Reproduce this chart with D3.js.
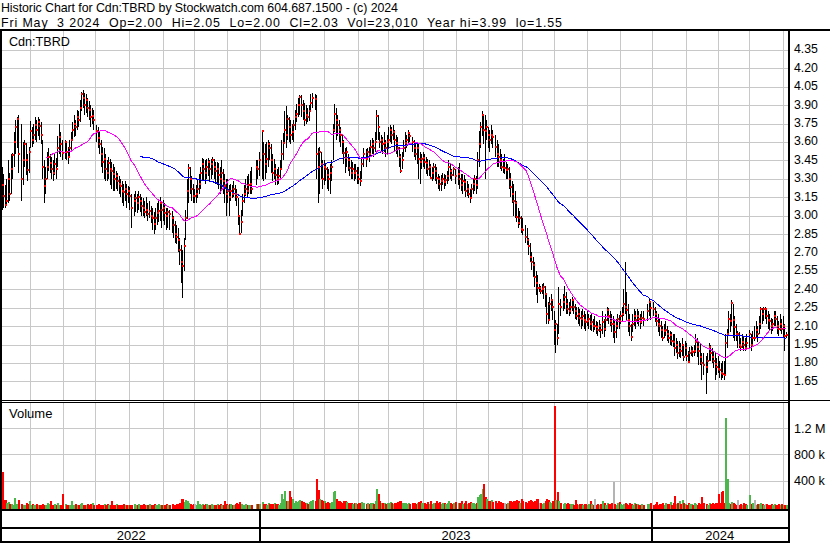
<!DOCTYPE html>
<html><head><meta charset="utf-8">
<script src="https://cdn.jsdelivr.net/npm/d3@7"></script>
<style>
html,body{margin:0;padding:0;background:#fff;}
svg{display:block;}
text{font-family:"Liberation Sans",Arial,sans-serif;fill:#000;}
</style></head><body>
<svg id="chart" width="830" height="543"></svg>
<script>
const title = "Historic Chart for Cdn:TBRD by Stockwatch.com 604.687.1500 - (c) 2024";
const subtitle = "Fri May  3 2024  Op=2.00  Hi=2.05  Lo=2.00  Cl=2.03  Vol=23,010  Year hi=3.99  lo=1.55";
const symbolLabel = "Cdn:TBRD";
const volumeLabel = "Volume";
const startDate = "2022-05-04", endDate = "2024-05-03";
const holidays = ["2022-05-23","2022-07-01","2022-08-01","2022-09-05","2022-10-10","2022-12-26","2022-12-27",
 "2023-01-02","2023-02-20","2023-04-07","2023-05-22","2023-07-03","2023-08-07","2023-09-04","2023-10-09",
 "2023-12-25","2023-12-26","2024-01-01","2024-02-19","2024-03-29"];
// daily close / high / low in cents, one row per month
const closes = [
349,325,316,309,312,330,318,338,349,360,372,379,350,330,345,358,345,337,352,
369,362,366,374,370,376,373,366,340,324,330,340,348,343,338,335,342,338,355,364,358,351,
360,352,348,355,362,370,375,372,380,378,388,399,396,390,394,388,386,380,381,378,
369,363,358,350,344,346,338,335,343,338,336,334,330,332,328,326,324,320,319,322,318,320,
316,306,312,314,310,315,312,308,306,303,305,301,304,300,298,293,298,302,304,310,305,
306,302,300,303,301,298,292,285,283,280,272,262,259,275,298,320,339,330,322,316,
316,318,322,326,335,342,338,335,340,344,338,342,345,340,336,338,333,330,335,328,324,318,
320,315,320,318,322,318,315,300,285,295,312,318,322,320,325,326,322,340,338,345,
369,350,342,346,358,355,345,335,338,333,330,332,338,350,359,370,366,379,372,366,368,
374,380,383,390,397,390,385,378,382,380,385,392,396,395,350,340,352,342,330,
340,338,333,330,335,340,370,383,378,374,370,366,360,351,347,352,345,339,335,338,335,336,333,
330,328,342,350,346,352,350,356,358,355,360,381,372,360,362,358,359,355,360,
362,370,366,368,362,359,355,348,336,345,355,359,362,367,365,360,355,350,355,346,344,346,
347,344,343,338,340,331,335,340,336,331,330,326,328,330,327,329,332,340,336,333,338,332,
334,330,325,328,327,320,322,318,314,322,326,330,325,345,358,372,382,370,369,372,
366,362,366,364,356,350,348,345,340,339,339,337,338,330,323,318,312,310,299,294,298,289,
288,283,280,275,266,262,260,250,245,241,241,239,240,242,236,220,215,228,231,226,
207,212,200,228,226,230,234,228,224,222,226,231,226,222,218,220,217,216,218,215,213,
214,216,212,213,210,210,209,207,210,207,213,208,215,223,218,214,212,212,205,210,216,214,
218,220,228,226,223,215,210,201,212,218,215,218,216,213,217,216,222,230,225,
224,220,214,212,210,207,200,206,207,204,200,203,198,197,192,195,188,192,190,195,185,192,
186,181,188,190,189,190,197,193,190,185,180,178,177,182,193,188,185,182,179,177,
175,174,172,171,170,196,204,216,214,229,215,209,204,204,195,193,197,195,192,196,
204,195,200,200,207,204,212,224,220,224,224,218,215,214,210,212,218,216,210,208,212,208,
210,202,203];
const highs = [
351,340,334,325,330,345,335,350,351,368,378,380,382,375,360,362,359,350,356,
377,372,375,380,378,380,379,376,362,345,340,352,355,350,348,345,350,347,365,375,368,362,
362,360,356,362,368,376,382,378,386,385,394,401,402,400,399,396,393,390,388,386,
374,372,368,362,356,355,350,345,348,346,344,342,340,336,335,332,330,328,326,328,326,324,
323,318,318,320,318,320,318,315,314,312,315,310,312,308,306,303,306,310,312,315,312,
313,310,306,306,305,304,300,296,292,290,282,276,272,282,305,330,342,340,332,326,
322,325,330,334,340,347,346,345,346,347,345,346,348,346,344,344,343,340,345,338,334,330,
330,325,326,325,328,325,322,314,300,305,318,325,330,332,334,336,340,345,345,352,
370,360,358,360,362,360,358,350,346,342,338,340,345,362,367,385,389,382,380,378,375,
378,386,391,396,398,398,394,392,390,388,390,399,400,399,398,355,356,352,345,
345,343,340,338,342,345,375,391,388,382,378,372,366,362,355,356,350,348,345,344,342,342,340,
340,336,348,355,354,355,356,362,363,362,368,386,382,368,366,364,368,362,366,
372,374,372,374,370,366,364,356,350,352,362,368,366,370,368,364,362,360,360,358,352,350,
352,350,348,346,345,342,340,343,342,340,334,332,333,335,334,333,336,345,342,338,340,338,
340,343,334,334,333,330,328,326,322,326,330,333,332,352,369,376,385,382,382,378,
372,370,374,370,366,362,358,354,350,346,350,344,342,340,335,328,326,320,312,306,304,300,
298,292,290,282,278,270,266,262,255,252,244,243,244,245,243,237,230,234,236,232,
222,215,212,242,232,236,243,238,232,230,232,234,232,228,226,226,224,222,224,222,220,
222,220,219,220,216,218,214,213,215,212,222,216,220,226,225,222,220,218,214,216,220,219,
222,226,240,262,238,228,220,212,220,224,222,224,222,220,222,222,228,232,230,
230,226,222,220,216,214,210,212,214,210,207,206,205,204,204,200,198,198,196,200,194,198,
196,190,193,194,193,195,204,200,198,196,188,188,186,188,196,195,192,190,188,184,
186,182,180,182,182,204,208,222,220,231,228,218,212,206,205,200,204,202,200,204,
207,204,206,210,214,210,218,226,225,226,226,225,222,220,217,216,222,222,218,214,220,216,
218,212,205];
const lows = [
328,305,306,306,308,310,312,318,330,340,350,355,335,312,325,340,333,328,335,
355,356,358,362,360,365,362,358,330,310,318,330,336,335,330,328,333,330,340,350,348,345,
346,345,342,347,352,362,364,365,370,372,376,385,388,382,384,380,378,372,375,370,
360,355,350,340,335,330,328,328,330,325,322,320,320,322,320,318,315,310,308,312,306,310,
305,290,300,303,302,305,303,300,300,298,300,296,298,294,288,285,288,292,295,296,290,
296,292,288,290,288,286,282,278,277,270,260,245,233,255,280,297,310,318,312,310,
310,310,314,318,322,328,328,326,330,332,328,330,333,330,326,325,322,318,320,318,310,300,
310,300,312,314,315,312,308,292,284,286,300,310,316,315,318,318,318,325,330,332,
330,328,330,335,340,345,335,328,330,325,325,326,330,338,345,358,355,362,360,358,362,
360,370,376,380,382,380,378,373,375,376,377,385,388,386,330,310,318,330,322,
325,328,322,320,318,328,345,368,362,365,360,356,350,342,335,340,336,332,330,330,328,330,326,
326,324,330,340,340,345,344,348,350,348,352,362,362,355,352,350,352,348,350,
355,360,358,362,352,350,348,340,335,338,348,352,355,358,360,352,348,345,342,330,326,338,
340,338,334,332,332,330,328,330,328,326,322,320,320,325,322,324,326,328,330,328,332,326,
325,322,320,318,320,315,316,314,310,314,318,320,318,322,340,355,365,358,330,362,
355,352,358,355,348,340,340,338,336,335,334,330,330,322,315,310,300,298,295,290,292,286,
284,278,276,268,262,256,250,242,235,229,238,236,236,232,226,212,212,216,222,215,
195,188,195,204,218,222,224,220,220,218,220,222,220,216,215,212,210,208,210,208,206,
210,208,207,206,205,207,204,202,205,200,204,201,206,214,212,210,205,200,196,200,208,208,
212,214,218,220,215,205,202,198,205,210,208,212,210,208,212,210,214,218,215,
218,213,210,205,202,200,198,200,202,198,196,195,194,193,186,188,183,185,184,186,182,186,
182,180,182,186,185,186,188,185,178,178,166,170,155,172,182,182,180,176,166,170,
172,168,166,168,166,170,192,204,205,210,200,198,198,192,192,190,192,190,190,191,
192,190,194,198,200,197,204,208,212,214,216,212,208,206,204,206,210,210,204,202,206,204,
200,190,200];
// daily volume in thousands of shares
const volumes = [
150,535,100,95,60,70,45,40,30,130,35,40,100,45,30,25,60,40,85,
30,40,25,20,35,30,20,25,40,30,30,50,35,85,25,30,40,20,60,25,30,190,
40,30,25,20,85,30,20,35,25,30,40,50,20,30,25,40,30,35,60,25,
30,45,20,25,30,35,20,40,25,30,85,20,25,35,30,20,25,30,40,25,30,20,
25,30,35,20,25,40,30,25,35,20,30,25,40,30,25,35,20,30,45,25,30,
30,25,35,20,30,40,25,30,35,45,60,115,115,70,100,90,60,40,30,35,
40,30,90,35,25,45,30,35,40,30,25,35,30,20,25,40,30,35,25,30,90,40,
30,35,40,25,30,35,60,45,70,40,30,25,35,30,20,25,30,45,40,35,
70,40,45,30,60,40,45,35,50,40,35,30,60,190,120,245,80,90,245,150,120,
60,80,70,90,100,80,70,60,50,40,70,90,100,80,420,250,120,100,90,
80,60,70,50,60,70,220,240,120,90,80,70,60,90,80,70,60,50,60,40,50,60,40,
50,60,70,60,40,50,40,60,50,40,90,270,200,80,60,50,60,40,50,
60,70,50,40,60,50,70,80,90,60,50,60,40,50,45,60,50,40,60,70,80,50,
60,50,40,70,40,90,40,60,50,80,60,70,40,60,50,40,60,80,50,40,60,70,
50,60,80,40,50,90,40,60,70,50,60,40,60,150,180,200,270,345,150,120,
90,80,100,70,90,60,80,70,60,50,60,40,50,80,90,70,90,80,100,90,60,120,
80,70,60,90,100,80,70,90,120,110,60,50,40,60,80,120,100,70,60,80,
1550,100,228,80,60,40,50,40,60,35,45,40,30,100,40,30,35,40,30,35,40,
30,35,90,40,30,120,25,35,30,40,90,50,30,60,40,35,60,380,40,30,60,70,
40,30,35,50,40,30,60,40,30,50,35,40,30,25,40,30,35,40,60,
30,40,70,30,35,40,50,30,60,35,40,70,30,50,165,40,60,90,35,100,50,40,
30,60,40,35,30,50,40,30,60,40,150,50,40,30,60,40,60,40,50,60,
190,60,228,245,60,1360,420,60,40,70,50,40,30,95,30,40,30,50,40,30,
180,40,60,95,30,40,40,60,40,30,35,40,30,25,40,30,35,30,25,40,30,35,
30,25,23];
const priceTicks = [4.35,4.20,4.05,3.90,3.75,3.60,3.45,3.30,3.15,3.00,2.85,2.70,2.55,2.40,2.25,2.10,1.95,1.80,1.65];
const volumeTicks = [400,800,1200];
const volumeTickLabels = ["400 k","800 k","1.2 M"];
const maShort = 30, maLong = 90;

const svg = d3.select("#chart");
const W = 830, H = 543;
const plotL = 2, plotR = 788;
const priceTop = 31, priceBot = 400, volTop = 403, volBot = 509;

const parse = d3.utcParse("%Y-%m-%d"), fmt = d3.utcFormat("%Y-%m-%d");
const hol = new Set(holidays);
const days = d3.utcDays(parse(startDate), d3.utcDay.offset(parse(endDate), 1)).filter(d => d.getUTCDay() % 6 !== 0);
const bars = [];
days.forEach((d, wi) => { if (!hol.has(fmt(d))) bars.push({d, wi}); });
const n = Math.min(bars.length, closes.length);
bars.length = n;
bars.forEach((b, i) => {
  b.c = closes[i] / 100;
  b.h = Math.max(highs[i], closes[i]) / 100;
  b.l = Math.min(lows[i], closes[i]) / 100;
  b.v = volumes[i];
  const prev = i > 0 ? closes[i - 1] : Infinity;
  b.dir = closes[i] < prev ? -1 : closes[i] > prev ? 1 : 0;
});
function sma(k) {
  return bars.map((b, i) => i < k - 1 ? null : d3.mean(bars.slice(i - k + 1, i + 1), d => d.c));
}
const ma1 = sma(maShort), ma2 = sma(maLong);

const x = d3.scaleLinear().domain([0, days.length - 1]).range([0, 1.505 * (days.length - 1)]);
const y = d3.scaleLinear().domain([1.65, 4.35]).range([381.4, 49.9]);
const yv = d3.scaleLinear().domain([0, 1200]).range([506.6, 428.4]);

svg.append("rect").attr("width", W).attr("height", H).attr("fill", "#fff");
const defs = svg.append("defs");
defs.append("clipPath").attr("id", "cp").append("rect").attr("x", plotL).attr("y", priceTop).attr("width", plotR - plotL).attr("height", priceBot - priceTop);
defs.append("clipPath").attr("id", "cv").append("rect").attr("x", plotL).attr("y", volTop).attr("width", plotR - plotL).attr("height", volBot - volTop);

const gridC = "#c8c8c8";
const monthStarts = days.map((d, i) => ({d, i})).filter(o => o.i > 0 && o.d.getUTCMonth() !== days[o.i - 1].getUTCMonth());
const yearStarts = monthStarts.filter(o => o.d.getUTCMonth() === 0);
const g = svg.append("g").attr("shape-rendering", "crispEdges");
monthStarts.forEach(o => {
  const xx = Math.round(x(o.i)) + 0.5;
  g.append("line").attr("x1", xx).attr("x2", xx).attr("y1", priceTop).attr("y2", priceBot).attr("stroke", gridC);
  g.append("line").attr("x1", xx).attr("x2", xx).attr("y1", volTop).attr("y2", volBot).attr("stroke", gridC);
});
priceTicks.forEach(t => {
  const yy = Math.round(y(t)) + 0.5;
  g.append("line").attr("x1", plotL).attr("x2", plotR).attr("y1", yy).attr("y2", yy).attr("stroke", gridC);
});
volumeTicks.forEach(t => {
  const yy = Math.round(yv(t)) + 0.5;
  g.append("line").attr("x1", plotL).attr("x2", plotR).attr("y1", yy).attr("y2", yy).attr("stroke", gridC);
});

// volume bars
const vg = svg.append("g").attr("clip-path", "url(#cv)").attr("shape-rendering", "crispEdges");
vg.selectAll("rect").data(bars).join("rect")
  .attr("x", b => Math.round(x(b.wi)))
  .attr("width", 2)
  .attr("y", b => Math.round(yv(b.v)))
  .attr("height", b => Math.max(1, volBot - Math.round(yv(b.v))))
  .attr("fill", b => b.dir < 0 ? "#ff0000" : b.dir > 0 ? "#4cb84c" : "#b4b4b4");

// price bars
const pg = svg.append("g").attr("clip-path", "url(#cp)");
pg.append("g").attr("shape-rendering", "crispEdges").selectAll("rect").data(bars).join("rect")
  .attr("x", b => Math.round(x(b.wi)))
  .attr("width", 1)
  .attr("y", b => Math.round(y(b.h)))
  .attr("height", b => Math.max(1, Math.round(y(b.l)) - Math.round(y(b.h))))
  .attr("fill", "#000");
const line = d3.line().defined(d => d[1] != null).x(d => x(d[0]) + 0.5).y(d => d[1]);
pg.append("path").attr("d", line(bars.map((b, i) => [b.wi, ma2[i] == null ? null : y(ma2[i])])))
  .attr("fill", "none").attr("stroke", "#0000ff").attr("stroke-width", 1).attr("shape-rendering", "crispEdges");
pg.append("path").attr("d", line(bars.map((b, i) => [b.wi, ma1[i] == null ? null : y(ma1[i])])))
  .attr("fill", "none").attr("stroke", "#ff00ff").attr("stroke-width", 1).attr("shape-rendering", "crispEdges");
pg.append("g").attr("shape-rendering", "crispEdges").selectAll("rect").data(bars).join("rect")
  .attr("x", b => Math.round(x(b.wi)))
  .attr("width", 2)
  .attr("y", b => Math.round(y(b.c)) - 1)
  .attr("height", 2)
  .attr("fill", "#ff0000");

// frame
const f = svg.append("g").attr("shape-rendering", "crispEdges").attr("fill", "#000");
f.append("rect").attr("x", 0).attr("y", 29).attr("width", W).attr("height", 2);
f.append("rect").attr("x", 0).attr("y", 29).attr("width", 2).attr("height", H - 29);
f.append("rect").attr("x", plotR).attr("y", 29).attr("width", 2).attr("height", H - 29);
f.append("rect").attr("x", 0).attr("y", 400).attr("width", W).attr("height", 1);
f.append("rect").attr("x", 0).attr("y", 402).attr("width", plotR).attr("height", 1);
f.append("rect").attr("x", 0).attr("y", 509).attr("width", plotR + 2).attr("height", 2);
f.append("rect").attr("x", 0).attr("y", 527).attr("width", plotR + 2).attr("height", 2);
f.append("rect").attr("x", 0).attr("y", 541).attr("width", plotR + 2).attr("height", 2);
yearStarts.forEach(o => {
  f.append("rect").attr("x", Math.round(x(o.i)) - 1).attr("y", 509).attr("width", 2).attr("height", H - 509);
});

// texts
svg.append("text").attr("x", 1).attr("y", 12).attr("font-size", 12.4)
  .attr("textLength", 397).attr("lengthAdjust", "spacing").text(title);
svg.append("text").attr("x", 1).attr("y", 27).attr("font-size", 12.4).attr("xml:space", "preserve").style("white-space", "pre")
  .attr("textLength", 561).attr("lengthAdjust", "spacing").text(subtitle);
svg.append("text").attr("x", 9).attr("y", 45.5).attr("font-size", 12.6).text(symbolLabel);
svg.append("text").attr("x", 9).attr("y", 417.5).attr("font-size", 13).text(volumeLabel);
priceTicks.forEach(t => {
  svg.append("text").attr("x", 794).attr("y", y(t) + 3.5).attr("font-size", 12.3).text(d3.format(".2f")(t));
});
volumeTicks.forEach((t, k) => {
  svg.append("text").attr("x", 794).attr("y", yv(t) + 4.5).attr("font-size", 12.6).text(volumeTickLabels[k]);
});
const bounds = [plotL].concat(yearStarts.map(o => x(o.i))).concat([plotR]);
const years = [bars[0].d.getUTCFullYear()].concat(yearStarts.map(o => o.d.getUTCFullYear()));
years.forEach((yr, k) => {
  svg.append("text").attr("x", (bounds[k] + bounds[k + 1]) / 2).attr("y", 539.5).attr("text-anchor", "middle").attr("font-size", 13).text(String(yr));
});
</script>
</body></html>
